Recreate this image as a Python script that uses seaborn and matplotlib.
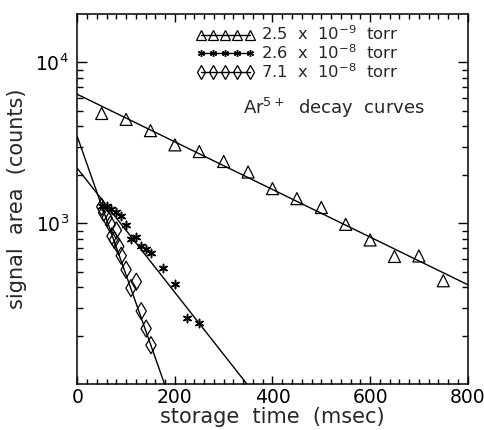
import numpy as np
import pandas as pd
import matplotlib
matplotlib.use("Agg")
import matplotlib.pyplot as plt
from matplotlib.lines import Line2D
import seaborn as sns

# ---- data ----
tri_t = [50, 100, 150, 200, 250, 300, 350, 400, 450, 500, 550, 600, 650, 700, 750]
tri_y = [4820, 4430, 3770, 3075, 2795, 2425, 2085, 1645, 1425, 1255, 986, 789, 623, 627, 440]

star_t = [50, 60, 70, 80, 90, 100, 110, 120, 130, 140, 150, 175, 200, 225, 250]
star_y = [1280, 1290, 1220, 1180, 1110, 972, 796, 820, 724, 692, 659, 527, 420, 258, 240]

dia_t = [50, 54, 61, 68, 71, 76, 80, 85, 90, 100, 110, 121, 131, 141, 151]
dia_y = [1267, 1164, 1084, 986, 833, 788, 905, 718, 629, 515, 396, 434, 285, 222, 175]

# exponential fits: amplitude (counts) and lifetime (msec)
fit_amp = [6340, 2198, 3459]
fit_tau = [293.7, 112.6, 50.5]

labels = [r"2.5  x  10$^{-9}$  torr", r"2.6  x  10$^{-8}$  torr", r"7.1  x  10$^{-8}$  torr"]
x_ticks = [0, 200, 400, 600, 800]
y_ticks = [1e3, 1e4]

sns.set_style("ticks")
plt.rcParams['font.family'] = ['DejaVu Sans']
plt.rcParams['mathtext.fontset'] = 'dejavusans'

fig = plt.figure(figsize=(4.85, 4.3), dpi=100)
ax = fig.add_axes([0.1594, 0.1063, 0.8049, 0.8611])

series = [
    (tri_t, tri_y, dict(marker='^', s=75, facecolor='none', edgecolor='black', linewidth=0.9)),
    (star_t, star_y, dict(marker=(6, 2, 0), s=35, color='black', linewidth=1.1)),
    (dia_t, dia_y, dict(marker='d', s=75, facecolor='none', edgecolor='black', linewidth=0.9)),
]
tt = np.linspace(0, 800, 801)
for (t, y, kw), A, tau in zip(series, fit_amp, fit_tau):
    df = pd.DataFrame({"t": t, "y": y})
    sns.scatterplot(data=df, x="t", y="y", ax=ax, zorder=3, **kw)
    fdf = pd.DataFrame({"t": tt, "y": A * np.exp(-tt / tau)})
    sns.lineplot(data=fdf, x="t", y="y", ax=ax, color='black', linewidth=1.0, zorder=2)

ax.set_yscale('log')
ax.set_xlim(0, 800)
ax.set_ylim(100, 20000)
ax.set_xticks(x_ticks)
ax.set_xticks(np.arange(0, 801, 20), minor=True)
ax.set_yticks(y_ticks)
minors = [m * d for d in (100, 1000) for m in range(2, 10)]
ax.set_yticks(minors, minor=True)
ax.yaxis.set_minor_formatter(matplotlib.ticker.NullFormatter())
ax.set_xticklabels([str(v) for v in x_ticks])
ax.set_yticklabels([r"10$^{3}$", r"10$^{4}$"])

ax.tick_params(which='both', direction='in', top=True, right=True, colors='black',
               labelsize=13.5, width=1.0)
ax.tick_params(axis='y', which='major', length=7, pad=6)
ax.tick_params(axis='y', which='minor', length=4)
ax.tick_params(axis='x', which='major', length=6, pad=3)
ax.tick_params(axis='x', which='minor', length=3.5)
for sp in ax.spines.values():
    sp.set_visible(True)
    sp.set_linewidth(1.1)
    sp.set_color('black')

ax.set_xlabel("storage  time  (msec)", fontsize=15, labelpad=0)
ax.set_ylabel("signal  area  (counts)", fontsize=15, labelpad=6)

handles = [
    Line2D([], [], color='black', lw=1.0, marker='^', markersize=7, markerfacecolor='none', markeredgewidth=0.9),
    Line2D([], [], color='black', lw=1.0, marker=(6, 2, 0), markersize=5, markeredgewidth=1.0),
    Line2D([], [], color='black', lw=1.0, marker='d', markersize=7, markerfacecolor='none', markeredgewidth=0.9),
]
leg = ax.legend(handles, labels, loc='upper right', bbox_to_anchor=(0.85, 1.0), numpoints=5,
                handlelength=3.6, handletextpad=0.4, labelspacing=0.0, frameon=False,
                fontsize=11.8, borderaxespad=0.25)
ax.text(0.425, 0.745, r"Ar$^{5+}$  decay  curves", transform=ax.transAxes, fontsize=13,
        ha='left', va='center')

fig.savefig("out.png", dpi=100)
